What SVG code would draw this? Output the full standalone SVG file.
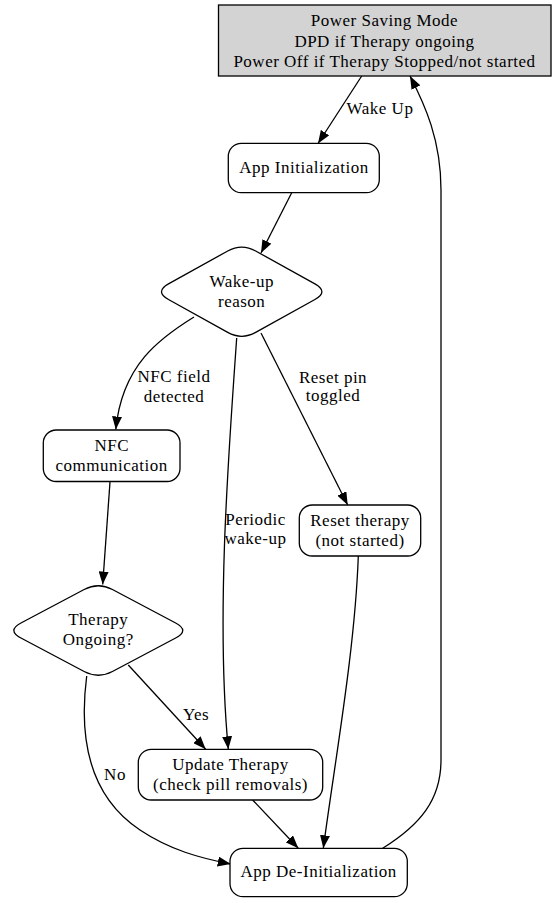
<svg xmlns="http://www.w3.org/2000/svg" width="554" height="903" viewBox="0 0 554 903">
<style>
text{font-family:"Liberation Serif","Times New Roman",serif;font-size:17px;letter-spacing:0.5px;fill:#000;text-anchor:middle}
.node{fill:#fff;stroke:#000;stroke-width:1.3}
.grey{fill:#d3d3d3}
.edge{fill:none;stroke:#000;stroke-width:1.3;marker-end:url(#arr)}
</style>
<defs>
<marker id="arr" markerUnits="userSpaceOnUse" viewBox="0 0 13 10" refX="13" refY="5" markerWidth="13" markerHeight="10" orient="auto"><path d="M0,0 L13,5 L0,10 Z" fill="#000"/></marker>
</defs>
<rect width="554" height="903" fill="#fff"/>
<g id="connectors">
<path class="edge" d="M361.7,76 L318,143.5"/>
<path class="edge" d="M291.7,192.7 L261,253"/>
<path class="edge" d="M194,317 C160,338 122,365 115.8,429.5"/>
<path class="edge" d="M236.7,338 C228,460 216,620 228.3,749.3"/>
<path class="edge" d="M261,333 L347.7,505"/>
<path class="edge" d="M110,482 L102.7,584.5"/>
<path class="edge" d="M128.3,665 L205.7,749.3"/>
<path class="edge" d="M86.7,676 C81,720 80,790 140,830 C170,850 200,858 230.7,864"/>
<path class="edge" d="M252.7,800 L298.3,848.3"/>
<path class="edge" d="M358.3,556 C355,650 335,760 323.3,848.3"/>
<path class="edge" d="M382.7,848.3 C420,825 441,800 441,760 L441,190 C441,140 425,105 410,76"/>
<text x="380" y="114">Wake Up</text>
<text x="174" y="382">NFC field</text>
<text x="174" y="401.5">detected</text>
<text x="333" y="382.5">Reset pin</text>
<text x="333" y="401">toggled</text>
<text x="255.5" y="525">Periodic</text>
<text x="255.5" y="544">wake-up</text>
<text x="196" y="720">Yes</text>
<text x="115" y="780">No</text>
</g>
<g id="power_saving">
<rect class="node grey" x="218.5" y="5" width="332.5" height="71"/>
<text x="384.5" y="26">Power Saving Mode</text>
<text x="384.5" y="46.5">DPD if Therapy ongoing</text>
<text x="384.5" y="66.5">Power Off if Therapy Stopped/not started</text>
</g>
<g id="app_init">
<rect class="node" x="228.3" y="143.3" width="151" height="49.4" rx="13" ry="13"/>
<text x="304" y="173.3">App Initialization</text>
</g>
<g id="wakeup_reason">
<path class="node" d="M168.48,283.92 L227.72,250.98 Q241.7,243.2 255.68,250.98 L314.92,283.92 Q328.9,291.7 314.92,299.48 L255.68,332.42 Q241.7,340.2 227.72,332.42 L168.48,299.48 Q154.5,291.7 168.48,283.92 Z"/>
<text x="241.7" y="287.3">Wake-up</text>
<text x="241.7" y="306.7">reason</text>
</g>
<g id="nfc_comm">
<rect class="node" x="43.3" y="430" width="136.7" height="51.5" rx="13" ry="13"/>
<text x="111.7" y="450.7">NFC</text>
<text x="111.7" y="470.7">communication</text>
</g>
<g id="reset_therapy">
<rect class="node" x="299.3" y="505" width="121.4" height="51" rx="13" ry="13"/>
<text x="360" y="526">Reset therapy</text>
<text x="360" y="546">(not started)</text>
</g>
<g id="therapy_ongoing">
<path class="node" d="M20.94,623.01 L84.16,589.49 Q98.3,582 112.44,589.49 L175.66,623.01 Q189.8,630.5 175.66,637.99 L112.44,671.51 Q98.3,679 84.16,671.51 L20.94,637.99 Q6.8,630.5 20.94,623.01 Z"/>
<text x="98.3" y="625">Therapy</text>
<text x="98.3" y="645">Ongoing?</text>
</g>
<g id="update_therapy">
<rect class="node" x="138.3" y="749.3" width="184.4" height="50.7" rx="13" ry="13"/>
<text x="230.5" y="770">Update Therapy</text>
<text x="230.5" y="790">(check pill removals)</text>
</g>
<g id="app_deinit">
<rect class="node" x="230" y="848.3" width="177.3" height="48.4" rx="13" ry="13"/>
<text x="318.7" y="877.3">App De-Initialization</text>
</g>
</svg>
